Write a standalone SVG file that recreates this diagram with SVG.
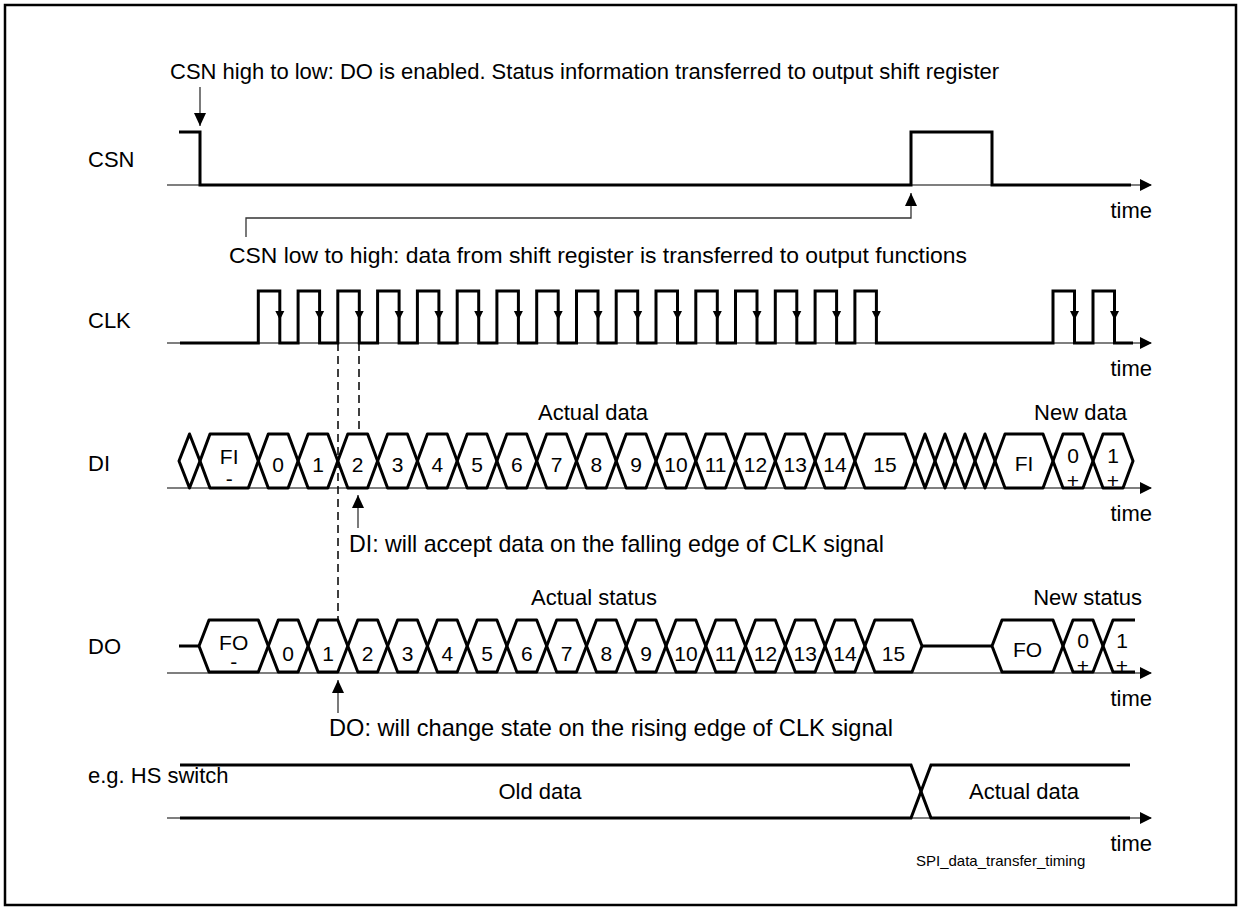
<svg xmlns="http://www.w3.org/2000/svg" xmlns:xlink="http://www.w3.org/1999/xlink" width="1242" height="911" viewBox="0 0 1242 911">
<style>
.sig{fill:none;stroke:#000;stroke-width:3;stroke-linejoin:miter}
.bus{fill:none;stroke:#000;stroke-width:3;stroke-linejoin:round}
.axis{fill:none;stroke:#000;stroke-width:1.2}
.ann{fill:none;stroke:#333;stroke-width:1.3}
.dash{fill:none;stroke:#000;stroke-width:1.5;stroke-dasharray:8,5}
text{font-family:"Liberation Sans",Arial,sans-serif;font-size:22px;fill:#000}
.c{text-anchor:middle}
.d{font-size:21px}
.e{text-anchor:end}
.sm{font-size:15px}
</style>
<defs>
<marker id="ax" viewBox="0 0 12 12" refX="11" refY="6" markerWidth="12" markerHeight="12" markerUnits="userSpaceOnUse" orient="auto"><path d="M0,0 L12,6 L0,12 Z" fill="#000"/></marker>
<marker id="ar" viewBox="0 0 13 12" refX="13" refY="6" markerWidth="13" markerHeight="12" markerUnits="userSpaceOnUse" orient="auto"><path d="M0,0 L13,6 L0,12 Z" fill="#000"/></marker>
<polygon id="fa" points="-4.5,-9 4.5,-9 0,0" fill="#000"/>
</defs>
<rect id="frame" x="5" y="5" width="1231" height="900" fill="#fff" stroke="#000" stroke-width="2.5"/>

<g id="labels">
<text x="88" y="167">CSN</text>
<text x="88" y="328">CLK</text>
<text x="88" y="471">DI</text>
<text x="88" y="654">DO</text>
<text x="88" y="783">e.g. HS switch</text>
<text class="e" x="1152" y="218">time</text>
<text class="e" x="1152" y="376">time</text>
<text class="e" x="1152" y="521">time</text>
<text class="e" x="1152" y="706">time</text>
<text class="e" x="1152" y="851">time</text>
</g>

<g id="connectors">
<line class="axis" x1="167" y1="185" x2="1151" y2="185" marker-end="url(#ax)"/>
<line class="axis" x1="167" y1="343" x2="1151" y2="343" marker-end="url(#ax)"/>
<line class="axis" x1="167" y1="488" x2="1151" y2="488" marker-end="url(#ax)"/>
<line class="axis" x1="167" y1="673" x2="1151" y2="673" marker-end="url(#ax)"/>
<line class="axis" x1="167" y1="818" x2="1151" y2="818" marker-end="url(#ax)"/>
<line class="ann" x1="200" y1="87" x2="200" y2="126" marker-end="url(#ar)"/>
<polyline class="ann" points="246,237 246,218 911,218 911,193" marker-end="url(#ar)"/>
<line class="ann" x1="358" y1="528" x2="358" y2="495" marker-end="url(#ar)"/>
<line class="ann" x1="338" y1="713" x2="338" y2="680" marker-end="url(#ar)"/>
<line class="dash" x1="338" y1="343" x2="338" y2="620"/>
<line class="dash" x1="359" y1="343" x2="359" y2="434"/>
</g>

<g id="notes">
<text x="170" y="79">CSN high to low: DO is enabled. Status information transferred to output shift register</text>
<text x="229" y="263" style="font-size:22.9px">CSN low to high: data from shift register is transferred to output functions</text>
<text x="349" y="552" style="font-size:23.2px">DI: will accept data on the falling edge of CLK signal</text>
<text x="329" y="736" style="font-size:23.6px">DO: will change state on the rising edge of CLK signal</text>
<text class="sm" x="916" y="866">SPI_data_transfer_timing</text>
</g>

<g id="csn">
<path class="sig" d="M179,132 H200 V185 H911 V132 H992 V185 H1131"/>
</g>

<g id="clk">
<path class="sig" d="M180,343 H258.3 V291 H279.8 V343 H298.1 V291 H319.6 V343 H337.8 V291 H359.3 V343 H377.6 V291 H399.1 V343 H417.4 V291 H438.9 V343 H457.2 V291 H478.7 V343 H496.9 V291 H518.4 V343 H536.7 V291 H558.2 V343 H576.5 V291 H598 V343 H616.2 V291 H637.7 V343 H656 V291 H677.5 V343 H695.8 V291 H717.3 V343 H735.5 V291 H757 V343 H775.3 V291 H796.8 V343 H815.1 V291 H836.6 V343 H854.9 V291 H876.4 V343 H1053 V291 H1074.5 V343 H1093 V291 H1114.5 V343 H1133"/>
<use xlink:href="#fa" x="279.8" y="320"/><use xlink:href="#fa" x="319.6" y="320"/><use xlink:href="#fa" x="359.3" y="320"/><use xlink:href="#fa" x="399.1" y="320"/>
<use xlink:href="#fa" x="438.9" y="320"/><use xlink:href="#fa" x="478.7" y="320"/><use xlink:href="#fa" x="518.4" y="320"/><use xlink:href="#fa" x="558.2" y="320"/>
<use xlink:href="#fa" x="598" y="320"/><use xlink:href="#fa" x="637.7" y="320"/><use xlink:href="#fa" x="677.5" y="320"/><use xlink:href="#fa" x="717.3" y="320"/>
<use xlink:href="#fa" x="757" y="320"/><use xlink:href="#fa" x="796.8" y="320"/><use xlink:href="#fa" x="836.6" y="320"/><use xlink:href="#fa" x="876.4" y="320"/>
<use xlink:href="#fa" x="1074.5" y="320"/><use xlink:href="#fa" x="1114.5" y="320"/>
</g>

<g id="di">
<polygon class="bus" points="179,461 189.5,434 200,461 189.5,488"/>
<polygon class="bus" points="200,461 210,434 248.3,434 258.3,461 248.3,488 210,488"/>
<polygon class="bus" points="258.3,461 268.3,434 288.1,434 298.1,461 288.1,488 268.3,488"/>
<polygon class="bus" points="298.1,461 308.1,434 327.8,434 337.8,461 327.8,488 308.1,488"/>
<polygon class="bus" points="337.8,461 347.8,434 367.6,434 377.6,461 367.6,488 347.8,488"/>
<polygon class="bus" points="377.6,461 387.6,434 407.4,434 417.4,461 407.4,488 387.6,488"/>
<polygon class="bus" points="417.4,461 427.4,434 447.2,434 457.2,461 447.2,488 427.4,488"/>
<polygon class="bus" points="457.2,461 467.2,434 486.9,434 496.9,461 486.9,488 467.2,488"/>
<polygon class="bus" points="496.9,461 506.9,434 526.7,434 536.7,461 526.7,488 506.9,488"/>
<polygon class="bus" points="536.7,461 546.7,434 566.5,434 576.5,461 566.5,488 546.7,488"/>
<polygon class="bus" points="576.5,461 586.5,434 606.2,434 616.2,461 606.2,488 586.5,488"/>
<polygon class="bus" points="616.2,461 626.2,434 646,434 656,461 646,488 626.2,488"/>
<polygon class="bus" points="656,461 666,434 685.8,434 695.8,461 685.8,488 666,488"/>
<polygon class="bus" points="695.8,461 705.8,434 725.5,434 735.5,461 725.5,488 705.8,488"/>
<polygon class="bus" points="735.5,461 745.5,434 765.3,434 775.3,461 765.3,488 745.5,488"/>
<polygon class="bus" points="775.3,461 785.3,434 805.1,434 815.1,461 805.1,488 785.3,488"/>
<polygon class="bus" points="815.1,461 825.1,434 844.9,434 854.9,461 844.9,488 825.1,488"/>
<polygon class="bus" points="854.9,461 864.9,434 905,434 915,461 905,488 864.9,488"/>
<polygon class="bus" points="915,461 925,434 935,461 925,488"/>
<polygon class="bus" points="935,461 945,434 955,461 945,488"/>
<polygon class="bus" points="955,461 965,434 975,461 965,488"/>
<polygon class="bus" points="975,461 985,434 995,461 985,488"/>
<polygon class="bus" points="995,461 1005,434 1043,434 1053,461 1043,488 1005,488"/>
<polygon class="bus" points="1053,461 1063,434 1083,434 1093,461 1083,488 1063,488"/>
<polygon class="bus" points="1093,461 1103,434 1123,434 1133,461 1123,488 1103,488"/>
<text class="c d" x="229.2" y="464">FI</text>
<text class="c d" x="229.2" y="486">-</text>
<text class="c d" x="278.2" y="472">0</text>
<text class="c d" x="318" y="472">1</text>
<text class="c d" x="357.7" y="472">2</text>
<text class="c d" x="397.5" y="472">3</text>
<text class="c d" x="437.3" y="472">4</text>
<text class="c d" x="477" y="472">5</text>
<text class="c d" x="516.8" y="472">6</text>
<text class="c d" x="556.6" y="472">7</text>
<text class="c d" x="596.3" y="472">8</text>
<text class="c d" x="636.1" y="472">9</text>
<text class="c d" x="675.9" y="472">10</text>
<text class="c d" x="715.6" y="472">11</text>
<text class="c d" x="755.4" y="472">12</text>
<text class="c d" x="795.2" y="472">13</text>
<text class="c d" x="835" y="472">14</text>
<text class="c d" x="885" y="472">15</text>
<text class="c d" x="1024" y="471">FI</text>
<text class="c d" x="1073" y="463">0</text>
<text class="c d" x="1073" y="488">+</text>
<text class="c d" x="1113" y="463">1</text>
<text class="c d" x="1113" y="488">+</text>
<text x="538" y="420">Actual data</text>
<text class="e" x="1127" y="420">New data</text>
</g>

<g id="do">
<line class="sig" x1="179" y1="646" x2="199" y2="646"/>
<polygon class="bus" points="199,646 209,620 258.3,620 268.3,646 258.3,672 209,672"/>
<polygon class="bus" points="268.3,646 278.3,620 298.1,620 308.1,646 298.1,672 278.3,672"/>
<polygon class="bus" points="308.1,646 318.1,620 337.8,620 347.8,646 337.8,672 318.1,672"/>
<polygon class="bus" points="347.8,646 357.8,620 377.6,620 387.6,646 377.6,672 357.8,672"/>
<polygon class="bus" points="387.6,646 397.6,620 417.4,620 427.4,646 417.4,672 397.6,672"/>
<polygon class="bus" points="427.4,646 437.4,620 457.2,620 467.2,646 457.2,672 437.4,672"/>
<polygon class="bus" points="467.2,646 477.2,620 496.9,620 506.9,646 496.9,672 477.2,672"/>
<polygon class="bus" points="506.9,646 516.9,620 536.7,620 546.7,646 536.7,672 516.9,672"/>
<polygon class="bus" points="546.7,646 556.7,620 576.5,620 586.5,646 576.5,672 556.7,672"/>
<polygon class="bus" points="586.5,646 596.5,620 616.2,620 626.2,646 616.2,672 596.5,672"/>
<polygon class="bus" points="626.2,646 636.2,620 656,620 666,646 656,672 636.2,672"/>
<polygon class="bus" points="666,646 676,620 695.8,620 705.8,646 695.8,672 676,672"/>
<polygon class="bus" points="705.8,646 715.8,620 735.5,620 745.5,646 735.5,672 715.8,672"/>
<polygon class="bus" points="745.5,646 755.5,620 775.3,620 785.3,646 775.3,672 755.5,672"/>
<polygon class="bus" points="785.3,646 795.3,620 815.1,620 825.1,646 815.1,672 795.3,672"/>
<polygon class="bus" points="825.1,646 835.1,620 854.9,620 864.9,646 854.9,672 835.1,672"/>
<polygon class="bus" points="864.9,646 874.9,620 912,620 922,646 912,672 874.9,672"/>
<line class="sig" x1="922" y1="646" x2="992" y2="646"/>
<polygon class="bus" points="992,646 1002,620 1053,620 1063,646 1053,672 1002,672"/>
<polygon class="bus" points="1063,646 1073,620 1093,620 1103,646 1093,672 1073,672"/>
<path class="bus" d="M1135,620 H1113 L1103,646 L1113,672 H1135"/>
<text class="c d" x="233.7" y="650">FO</text>
<text class="c d" x="233.7" y="669">-</text>
<text class="c d" x="288.2" y="661">0</text>
<text class="c d" x="328" y="661">1</text>
<text class="c d" x="367.7" y="661">2</text>
<text class="c d" x="407.5" y="661">3</text>
<text class="c d" x="447.3" y="661">4</text>
<text class="c d" x="487" y="661">5</text>
<text class="c d" x="526.8" y="661">6</text>
<text class="c d" x="566.6" y="661">7</text>
<text class="c d" x="606.3" y="661">8</text>
<text class="c d" x="646.1" y="661">9</text>
<text class="c d" x="685.9" y="661">10</text>
<text class="c d" x="725.6" y="661">11</text>
<text class="c d" x="765.4" y="661">12</text>
<text class="c d" x="805.2" y="661">13</text>
<text class="c d" x="845" y="661">14</text>
<text class="c d" x="893.5" y="661">15</text>
<text class="c d" x="1027.5" y="657">FO</text>
<text class="c d" x="1083" y="648">0</text>
<text class="c d" x="1083" y="673">+</text>
<text class="c d" x="1122" y="648">1</text>
<text class="c d" x="1122" y="673">+</text>
<text x="531" y="605">Actual status</text>
<text class="e" x="1142" y="605">New status</text>
</g>

<g id="hs">
<path class="sig" d="M180,765 H911 L931,818 H1130"/>
<path class="sig" d="M180,818 H911 L931,765 H1130"/>
<text class="c" x="540" y="799">Old data</text>
<text class="c" x="1024" y="799">Actual data</text>
</g>
</svg>
